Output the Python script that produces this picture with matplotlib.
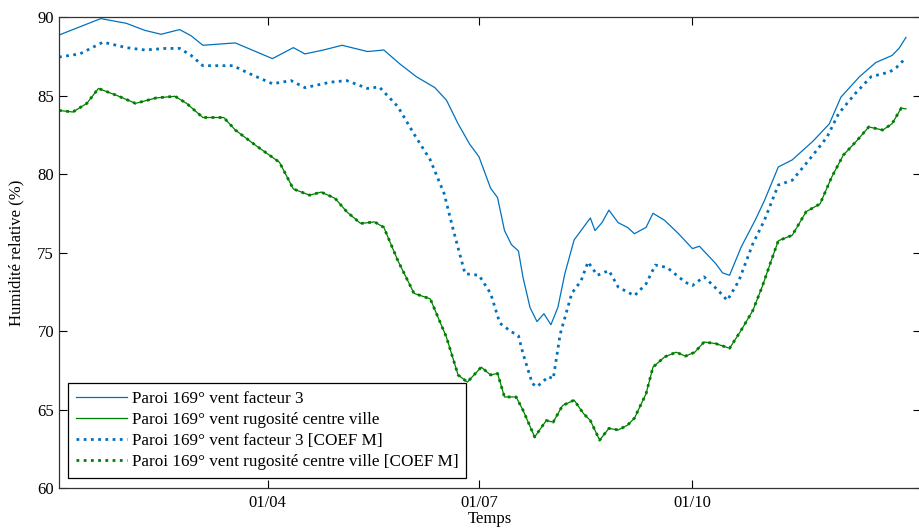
import matplotlib
matplotlib.use('Agg')
import matplotlib.pyplot as plt

# jour de l'annee (0 = 01/01) et humidite relative (%)
jours_f3 = [0, 18, 29, 37, 44, 52, 57, 62, 76, 92, 101, 106, 114, 122, 133, 140, 147, 154, 162, 167,
            172, 177, 181, 186, 189, 192, 195, 198, 200, 203, 206, 209, 212, 215, 218, 222, 226, 229, 231, 234,
            237, 241, 245, 248, 253, 256, 261, 267, 273, 276, 283, 286, 289, 294, 300, 304, 310, 316, 325, 332,
            337, 345, 352, 359, 362, 365]
hr_f3 = [88.85, 89.9, 89.6, 89.15, 88.9, 89.2, 88.8, 88.2, 88.35, 87.35, 88.05, 87.65, 87.9, 88.2, 87.8, 87.9, 87.0, 86.2, 85.5, 84.7,
         83.2, 81.9, 81.1, 79.1, 78.5, 76.4, 75.5, 75.1, 73.4, 71.5, 70.6, 71.1, 70.4, 71.5, 73.65, 75.8, 76.6, 77.2, 76.4, 76.9,
         77.7, 76.9, 76.6, 76.2, 76.6, 77.5, 77.05, 76.2, 75.25, 75.4, 74.3, 73.7, 73.55, 75.35, 77.05, 78.3, 80.45, 80.9, 82.1, 83.2,
         84.9, 86.2, 87.1, 87.55, 88.0, 88.7]

jours_rugo = [0, 6, 12, 17, 25, 33, 42, 50, 55, 62, 71, 76, 85, 95, 101, 108, 113, 119, 124, 130,
              136, 140, 146, 153, 160, 167, 172, 176, 182, 186, 189, 192, 197, 200, 205, 210, 213, 217, 222, 226,
              229, 233, 237, 241, 245, 248, 253, 256, 261, 266, 270, 274, 278, 283, 289, 294, 299, 303, 307, 310,
              316, 322, 328, 333, 338, 344, 349, 355, 359, 363, 365]
hr_rugo = [84.05, 83.95, 84.5, 85.45, 85.0, 84.5, 84.85, 84.95, 84.5, 83.6, 83.6, 82.8, 81.8, 80.75, 79.05, 78.65, 78.85, 78.45, 77.6, 76.85,
           76.95, 76.6, 74.5, 72.4, 72.05, 69.6, 67.2, 66.75, 67.7, 67.2, 67.3, 65.8, 65.8, 64.95, 63.25, 64.3, 64.2, 65.25, 65.6, 64.75,
           64.3, 63.05, 63.8, 63.7, 64.0, 64.45, 66.0, 67.7, 68.35, 68.65, 68.4, 68.65, 69.3, 69.2, 68.9, 70.05, 71.3, 72.8, 74.5, 75.75,
           76.1, 77.6, 78.1, 79.8, 81.2, 82.15, 83.0, 82.8, 83.2, 84.2, 84.15]

jours_f3_coef = [0, 9, 19, 29, 37, 46, 52, 57, 62, 75, 82, 92, 100, 106, 117, 124, 133, 138, 146, 153,
                 160, 166, 170, 175, 181, 186, 190, 195, 198, 200, 204, 206, 211, 213, 216, 221, 225, 228, 232, 237,
                 241, 248, 253, 257, 262, 270, 273, 278, 284, 288, 293, 299, 304, 310, 316, 323, 331, 336, 343, 350,
                 358, 361, 364]
hr_f3_coef = [87.45, 87.65, 88.4, 88.05, 87.9, 88.0, 88.0, 87.55, 86.9, 86.9, 86.4, 85.75, 85.95, 85.5, 85.85, 85.95, 85.45, 85.55, 84.3, 82.55,
              80.9, 78.75, 76.4, 73.65, 73.55, 72.4, 70.5, 69.95, 69.7, 68.55, 66.65, 66.45, 67.1, 66.95, 69.8, 72.4, 73.2, 74.4, 73.55, 73.85,
              72.8, 72.25, 73.0, 74.2, 74.05, 73.1, 72.9, 73.45, 72.6, 71.95, 73.2, 75.55, 77.05, 79.3, 79.6, 80.85, 82.35, 83.85, 85.1, 86.2,
              86.5, 86.8, 87.25]

# la courbe rugosite [COEF M] se superpose a la courbe rugosite
jours_rugo_coef = jours_rugo
hr_rugo_coef = hr_rugo

tick_jours = [90, 181, 273]
tick_labels = ['01/04', '01/07', '01/10']

bleu = '#0072BD'
vert = '#008000'

plt.rcParams['font.family'] = ['Liberation Serif', 'DejaVu Serif']
plt.rcParams['font.size'] = 12

fig = plt.figure(figsize=(9.2, 5.3), dpi=100)
ax = fig.add_axes([0.0641, 0.0792, 0.937, 0.8887])

ax.plot(jours_f3, hr_f3, color=bleu, lw=0.9, label='Paroi 169° vent facteur 3')
ax.plot(jours_rugo, hr_rugo, color=vert, lw=0.9, label='Paroi 169° vent rugosité centre ville')
ax.plot(jours_f3_coef, hr_f3_coef, color=bleu, lw=2.0, ls=(0, (1, 1.6)), label='Paroi 169° vent facteur 3 [COEF M]')
ax.plot(jours_rugo_coef, hr_rugo_coef, color=vert, lw=2.0, ls=(0, (1, 1.6)), label='Paroi 169° vent rugosité centre ville [COEF M]')

ax.set_xlim(0, 371.5)
ax.set_ylim(60, 90)
ax.set_xticks(tick_jours)
ax.set_xticklabels(tick_labels)
ax.set_yticks(range(60, 91, 5))
ax.tick_params(direction='in', top=True, right=True, length=6, width=0.8, labelsize=12)
ax.tick_params(axis='x', pad=5)
for s in ax.spines.values():
    s.set_linewidth(0.9)
    s.set_color('#333333')

ax.set_xlabel('Temps', fontsize=12, labelpad=0)
ax.set_ylabel('Humidité relative (%)', fontsize=12, labelpad=9)

leg = ax.legend(loc='lower left', bbox_to_anchor=(0.0105, 0.021), borderaxespad=0,
                frameon=True, fancybox=False, edgecolor='black', framealpha=1, fontsize=12.3,
                handlelength=3.0, borderpad=0.45, labelspacing=0.3, handletextpad=0.3)
leg.get_frame().set_linewidth(0.9)

fig.savefig('out.png', dpi=100)
